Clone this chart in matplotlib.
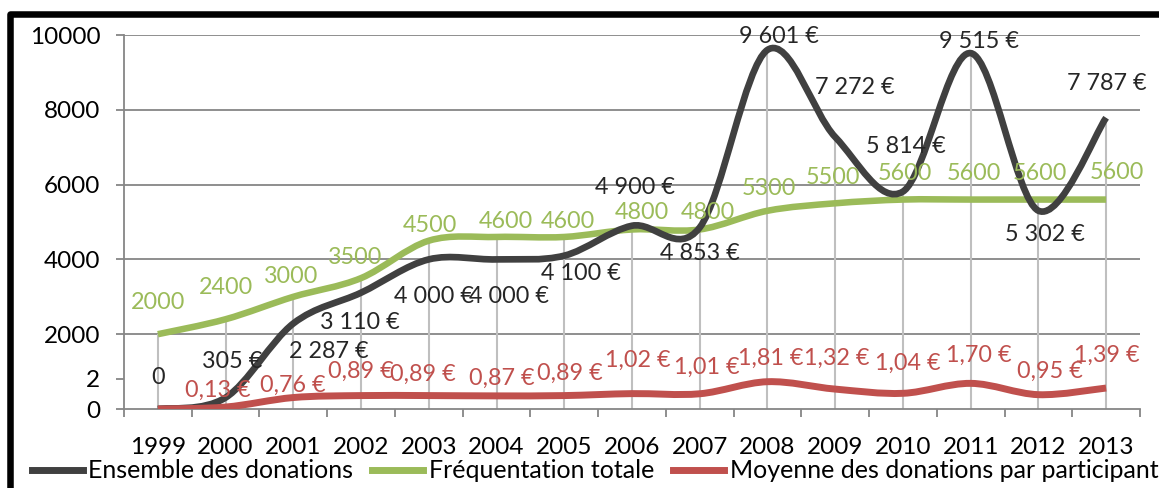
import matplotlib.pyplot as plt
import matplotlib
import numpy as np
from matplotlib.path import Path
from matplotlib.patches import PathPatch, Rectangle
from matplotlib.lines import Line2D

matplotlib.rc('font', family='Lato', size=17.5)

years = ['1999', '2000', '2001', '2002', '2003', '2004', '2005', '2006',
         '2007', '2008', '2009', '2010', '2011', '2012', '2013']
donations = [0, 305, 2287, 3110, 4000, 4000, 4100, 4900, 4853, 9601, 7272, 5814, 9515, 5302, 7787]
frequentation = [2000, 2400, 3000, 3500, 4500, 4600, 4600, 4800, 4800, 5300, 5500, 5600, 5600, 5600, 5600]
moyenne = [0, 0.13, 0.76, 0.89, 0.89, 0.87, 0.89, 1.02, 1.01, 1.81, 1.32, 1.04, 1.70, 0.95, 1.39]

don_labels = ['0', '305 €', '2 287 €', '3 110 €', '4 000 €', '4 000 €', '4 100 €', '4 900 €',
              '4 853 €', '9 601 €', '7 272 €', '5 814 €', '9 515 €', '5 302 €', '7 787 €']
freq_labels = [str(v) for v in frequentation]
moy_labels = ['', '0,13 €', '0,76 €', '0,89 €', '0,89 €', '0,87 €', '0,89 €', '1,02 €',
              '1,01 €', '1,81 €', '1,32 €', '1,04 €', '1,70 €', '0,95 €', '1,39 €']

# label offsets in pixels (dx right, dy down)
don_off = [(0, -32), (7, -36), (35, 28), (-1, 30), (5, 37), (12, 37), (17, 18), (3, -38),
           (0, 26), (11, -13), (20, -50), (3, -45), (8, -12), (7, 24), (1, -34)]
freq_off = [(0, -32), (0, -32), (-2, -20), (-6, -21), (1, -15), (9, -15), (4, -15), (10, -17),
            (8, -17), (1, -22), (-2, -26), (2, -26), (3, -26), (2, -26), (11, -27)]
moy_off = [(0, 0), (-8, -17), (-1, -12), (0, -24), (-6, -21), (5, -18), (6, -22), (6, -33),
           (7, -26), (3, -23), (2, -31), (5, -30), (8, -28), (12, -23), (1, -33)]

c_black = '#404040'
c_green = '#9BBB59'
c_red = '#C0504D'
c_grid = '#868686'
label_size = 16.8


def smooth_path(x, y):
    # bezier smoothing through the points, like the spreadsheet "smoothed line"
    pts = np.column_stack([x, y]).astype(float)
    n = len(pts)
    verts = [pts[0]]
    codes = [Path.MOVETO]
    for i in range(n - 1):
        p0 = pts[max(i - 1, 0)]
        p1 = pts[i]
        p2 = pts[i + 1]
        p3 = pts[min(i + 2, n - 1)]
        verts += [p1 + (p2 - p0) / 6.0, p2 - (p3 - p1) / 6.0, p2]
        codes += [Path.CURVE4] * 3
    return Path(verts, codes)


fig = plt.figure(figsize=(11.59, 4.88), dpi=100)
ax = fig.add_axes([124 / 1159, 1 - 409 / 488, (1140 - 124) / 1159, (409 - 35) / 488])
ax2 = ax.twinx()

x = np.arange(len(years))

ax.set_xlim(-0.5, len(years) - 0.5)
ax.set_ylim(0, 10000)
ax2.set_ylim(0, 24.8)

# gridlines and drop lines
for yv in [2000, 4000, 6000, 8000, 10000]:
    ax.axhline(yv, color=c_grid, lw=1.3, zorder=1)
tops = np.maximum(donations, frequentation)
ax.vlines(x, 0, tops, color='#BFBFBF', lw=1.5, zorder=1)

ax.add_patch(PathPatch(smooth_path(x, frequentation), fill=False, ec=c_green, lw=4.7,
                       capstyle='butt', zorder=3))
ax.add_patch(PathPatch(smooth_path(x, donations), fill=False, ec=c_black, lw=4.8,
                       capstyle='butt', zorder=4))
ax2.add_patch(PathPatch(smooth_path(x, moyenne), fill=False, ec=c_red, lw=5,
                        capstyle='butt', zorder=4))

for i in range(len(years)):
    ax.annotate(don_labels[i], (x[i], donations[i]), xytext=(don_off[i][0], -don_off[i][1]),
                textcoords='offset pixels', ha='center', va='center', color='#262626',
                fontsize=label_size, zorder=6)
    ax.annotate(freq_labels[i], (x[i], frequentation[i]), xytext=(freq_off[i][0], -freq_off[i][1]),
                textcoords='offset pixels', ha='center', va='center', color=c_green,
                fontsize=label_size, zorder=6)
    if moy_labels[i]:
        ax2.annotate(moy_labels[i], (x[i], moyenne[i]), xytext=(moy_off[i][0], -moy_off[i][1]),
                     textcoords='offset pixels', ha='center', va='center', color=c_red,
                     fontsize=label_size, zorder=6)

# axes styling
for s in ['top', 'right']:
    ax.spines[s].set_visible(False)
for s in ax2.spines.values():
    s.set_visible(False)
ax.spines['left'].set_color(c_grid)
ax.spines['bottom'].set_color(c_grid)
ax.spines['left'].set_linewidth(1.3)
ax.spines['bottom'].set_linewidth(1.3)

ax.set_yticks([0, 2000, 4000, 6000, 8000, 10000])
ax.tick_params(axis='y', length=6, width=1.3, color=c_grid, pad=11)
ax2.yaxis.set_ticks_position('left')
ax2.set_yticks([2])
ax2.tick_params(axis='y', length=6, width=1.3, color=c_grid, pad=11)

ax.set_xticks(x)
ax.set_xticklabels(years)
ax.set_xticks(np.arange(-0.5, len(years)), minor=True)
ax.tick_params(axis='x', which='major', length=0, pad=20)
ax.tick_params(axis='x', which='minor', length=6, width=1.3, color=c_grid)

handles = [Line2D([], [], color=c_black, lw=5),
           Line2D([], [], color=c_green, lw=5),
           Line2D([], [], color=c_red, lw=5)]
fig.legend(handles, ['Ensemble des donations', 'Fréquentation totale',
                     'Moyenne des donations par participant'],
           loc='center', bbox_to_anchor=(595 / 1159, 1 - 471 / 488), ncol=3, frameon=False,
           fontsize=18, handlelength=2.05, handletextpad=0.22, columnspacing=0.75,
           borderpad=0, borderaxespad=0)

# outer frame
fig.patches.append(Rectangle((9.5 / 1159, 1 - 490 / 488), 1.05, (490 - 14) / 488,
                             transform=fig.transFigure, fill=False, ec='black', lw=4.7,
                             joinstyle='round', clip_on=False))

plt.savefig('out.png', dpi=100)
